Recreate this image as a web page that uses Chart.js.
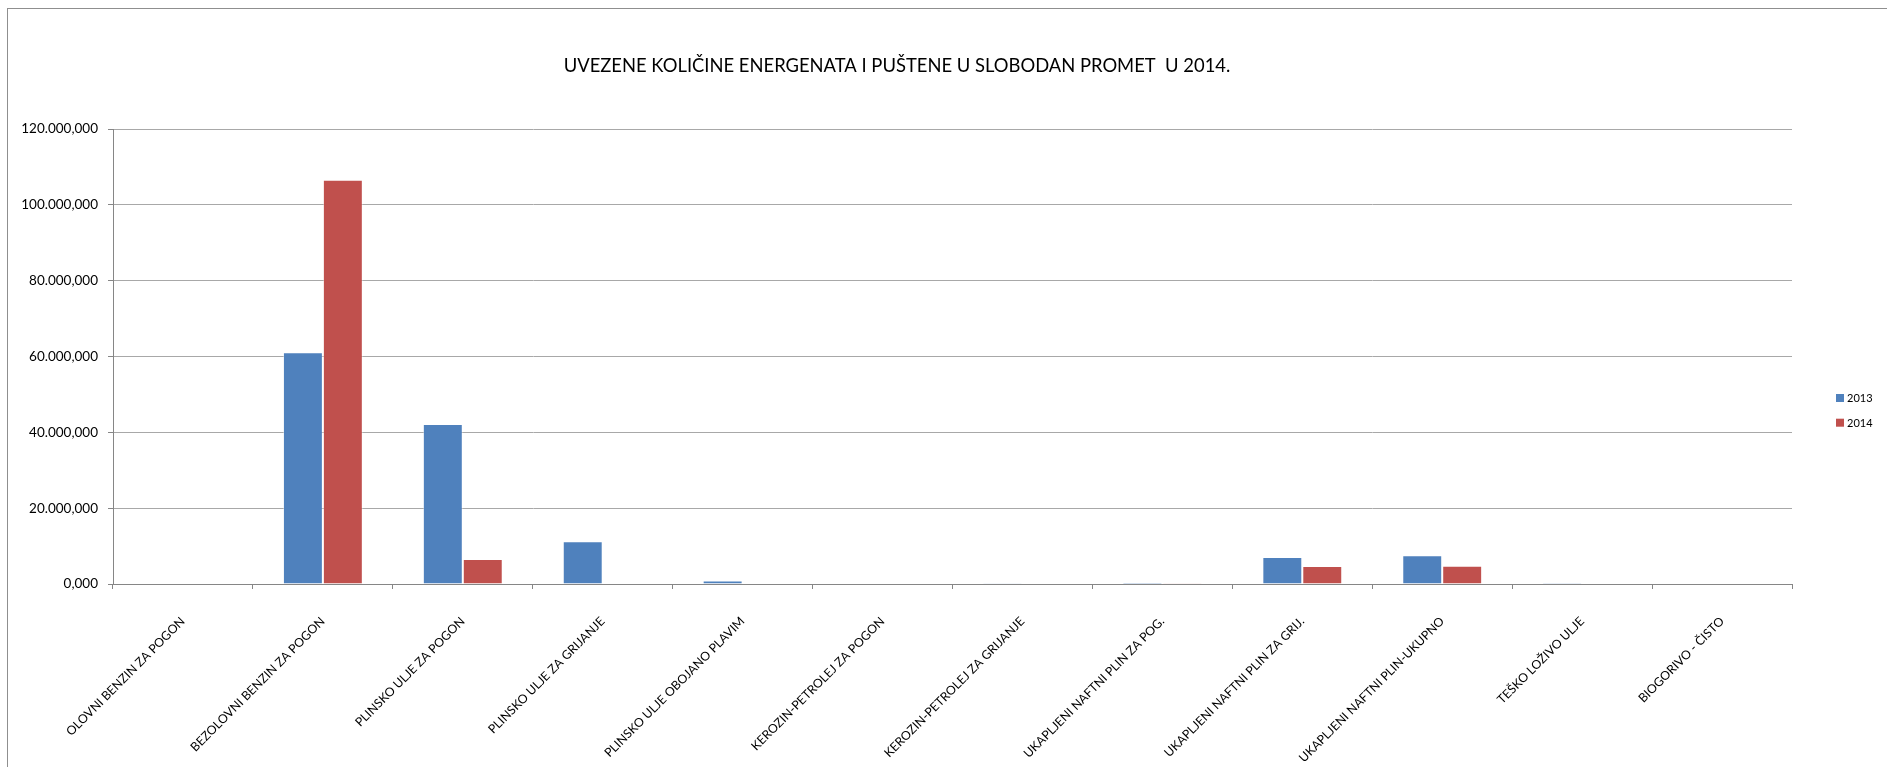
<!DOCTYPE html>
<html>
<head>
<meta charset="utf-8">
<script src="https://cdn.jsdelivr.net/npm/chart.js@4.4.1/dist/chart.umd.min.js"></script>
<style>
    html, body { margin: 0; padding: 0; background: #fff; overflow: hidden; }
    #frame { position: absolute; left: 7px; top: 8px; width: 1950px; height: 850px;
             border-top: 1px solid #8f8f8f; border-left: 1px solid #8f8f8f; }
    #chart { position: absolute; left: 0; top: 0; }
</style>
</head>
<body>
<div id="frame"></div>
<canvas id="chart" width="1887" height="767"></canvas>
<script>
// --- podaci ---
const chartTitle = 'UVEZENE KOLIČINE ENERGENATA I PUŠTENE U SLOBODAN PROMET  U 2014.';
const categories = [
    'OLOVNI BENZIN ZA POGON', 'BEZOLOVNI BENZIN ZA POGON', 'PLINSKO ULJE ZA POGON',
    'PLINSKO ULJE ZA GRIJANJE', 'PLINSKO ULJE OBOJANO PLAVIM', 'KEROZIN-PETROLEJ ZA POGON',
    'KEROZIN-PETROLEJ ZA GRIJANJE', 'UKAPLJENI NAFTNI PLIN ZA POG.', 'UKAPLJENI NAFTNI PLIN ZA GRIJ.',
    'UKAPLJENI NAFTNI PLIN-UKUPNO', 'TEŠKO LOŽIVO ULJE', 'BIOGORIVO - ČISTO'
];
const seriesNames = ['2013', '2014'];
const values2013 = [0, 61150, 42200, 11300, 920, 0, 50, 450, 7100, 7550, 300, 0];
const values2014 = [0, 106600, 6600, 0, 0, 0, 0, 60, 4740, 4800, 0, 0];
const yTickValues = [0, 20000, 40000, 60000, 80000, 100000, 120000];

const seriesColors = ['#4F81BD', '#C0504D'];
const seriesEdges = ['rgba(255,255,255,0.4)', 'rgba(255,255,255,0.4)'];

// 120000 -> "120.000,000"
function formatHr(v) {
    const whole = Math.round(v).toString().replace(/\B(?=(\d{3})+(?!\d))/g, '.');
    return whole + ',000';
}

// naslov i legenda kao u Excelu
const excelDecor = {
    id: 'excelDecor',
    afterDraw(chart) {
        const ctx = chart.ctx;
        ctx.save();
        ctx.fillStyle = '#000';
        ctx.font = '18.4px Lato';
        ctx.textAlign = 'center';
        ctx.textBaseline = 'middle';
        ctx.fillText(chartTitle, 897, 66);

        ctx.font = '11px Lato';
        ctx.textAlign = 'left';
        chart.data.datasets.forEach((ds, i) => {
            const y = 398 + i * 24.7;
            ctx.fillStyle = ds.backgroundColor;
            ctx.fillRect(1836, y - 4, 8, 8);
            ctx.fillStyle = '#000';
            ctx.fillText(ds.label, 1847, y + 0.5);
        });
        ctx.restore();
    }
};

Chart.defaults.font.family = 'Lato';
Chart.defaults.color = '#000';

new Chart(document.getElementById('chart').getContext('2d'), {
    type: 'bar',
    data: {
        labels: categories,
        datasets: [
            { label: seriesNames[0], data: values2013, backgroundColor: seriesColors[0],
              borderColor: seriesEdges[0], borderWidth: 1 },
            { label: seriesNames[1], data: values2014, backgroundColor: seriesColors[1],
              borderColor: seriesEdges[1], borderWidth: 1 }
        ]
    },
    options: {
        responsive: false,
        animation: false,
        layout: { padding: { top: 129, left: 0, right: 95, bottom: 0 } },
        datasets: { bar: { categoryPercentage: 0.571, barPercentage: 1.0 } },
        plugins: {
            legend: { display: false },
            title: { display: false },
            tooltip: { enabled: false }
        },
        scales: {
            x: {
                offset: true,
                afterFit: s => { s.height = 183; },
                grid: { offset: true, drawOnChartArea: false, drawTicks: true, tickLength: 5, tickColor: '#868686' },
                border: { color: '#868686' },
                ticks: { minRotation: 45, maxRotation: 45, autoSkip: false, padding: 25,
                         font: { size: 12.3 }, color: '#000' }
            },
            y: {
                min: 0,
                max: 120000,
                afterFit: s => { s.width = 113; },
                afterBuildTicks: s => { s.ticks = yTickValues.map(v => ({ value: v })); },
                grid: { color: '#a8a8a8', tickLength: 5, tickColor: '#868686' },
                border: { color: '#868686' },
                ticks: { padding: 10, font: { size: 13.5 }, color: '#000', callback: v => formatHr(v) }
            }
        }
    },
    plugins: [excelDecor]
});
</script>
</body>
</html>
